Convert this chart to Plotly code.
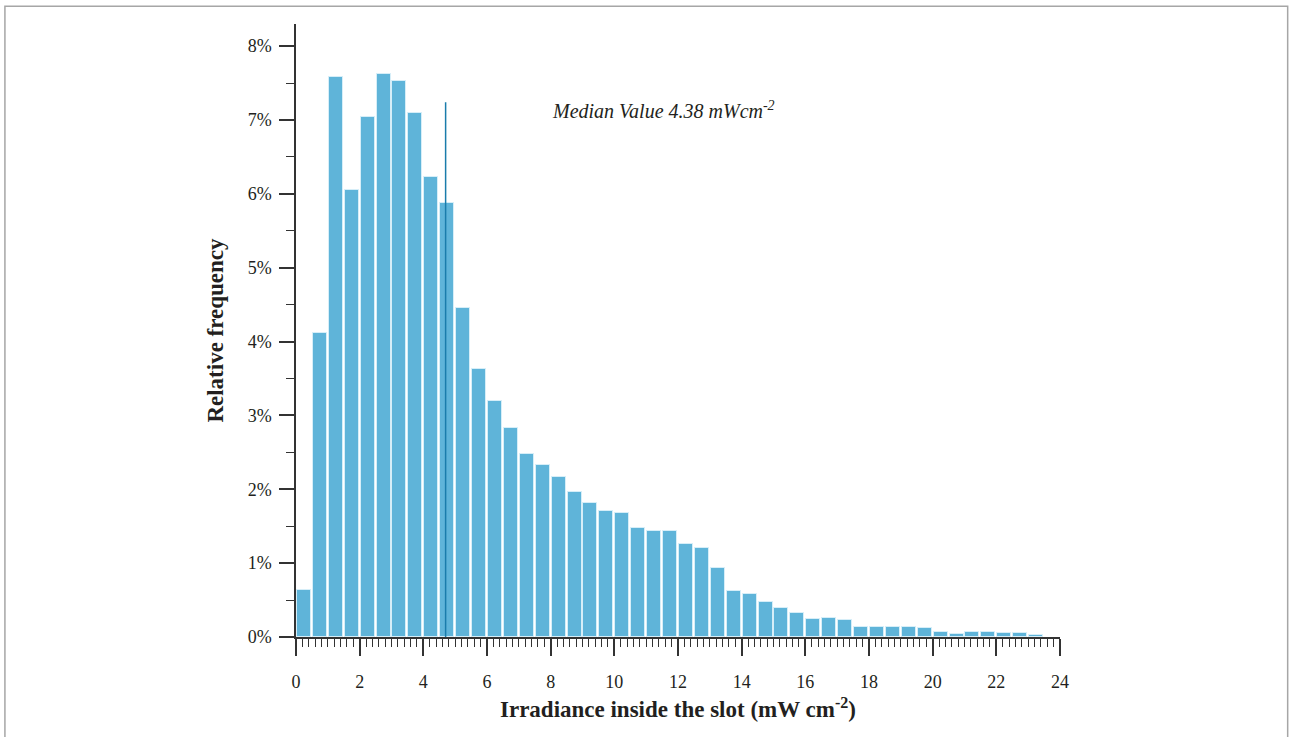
import plotly.graph_objects as go

# Histogram bins (mW cm^-2), width 0.5
bin_width = 0.5
bin_starts = [i * 0.5 for i in range(47)]
rel_freq = [0.63, 4.12, 7.58, 6.05, 7.04, 7.62, 7.53, 7.10, 6.23, 5.88,
            4.45, 3.63, 3.20, 2.83, 2.48, 2.33, 2.17, 1.97, 1.81, 1.70,
            1.68, 1.47, 1.43, 1.43, 1.26, 1.20, 0.93, 0.62, 0.58, 0.47,
            0.39, 0.32, 0.25, 0.26, 0.23, 0.14, 0.14, 0.14, 0.14, 0.12,
            0.07, 0.04, 0.07, 0.07, 0.05, 0.06, 0.03]
x_ticks = [0, 2, 4, 6, 8, 10, 12, 14, 16, 18, 20, 22, 24]
y_ticks = [0, 1, 2, 3, 4, 5, 6, 7, 8]
y_ticktext = [f"{v}%" for v in y_ticks]
median_line_x = 4.7
median_line_top = 7.24
median_label = "Median Value 4.38 mWcm<sup>-2</sup>"

centers = [s + bin_width / 2 for s in bin_starts]

fig = go.Figure()
fig.add_trace(go.Bar(
    x=centers, y=rel_freq, width=bin_width * 0.88,
    marker=dict(color="#5fb4d9", line=dict(color="#d6eef8", width=1)),
    hoverinfo="x+y", showlegend=False,
))
fig.add_trace(go.Scatter(
    x=[median_line_x, median_line_x], y=[0, median_line_top],
    mode="lines", line=dict(color="#1a7cab", width=1.5),
    showlegend=False, hoverinfo="skip",
))

font_family = "Liberation Serif, DejaVu Serif, serif"
axis_color = "#333333"

fig.add_annotation(
    x=7.97, y=7.13, xref="x", yref="y", text=median_label,
    showarrow=False, xanchor="left", yanchor="middle",
    font=dict(family=font_family, size=20, color="#231f20", style="italic"),
)

# outer frame
fig.add_shape(type="rect", xref="paper", yref="paper",
              x0=-0.381, x1=1.298, y0=-0.2, y1=1.029,
              line=dict(color="#a6a6a6", width=1.5), layer="below")

fig.update_layout(
    width=1290, height=737,
    margin=dict(l=296, r=230, t=24, b=100),
    paper_bgcolor="white", plot_bgcolor="white",
    font=dict(family=font_family, size=18, color="#231f20"),
    bargap=0,
    xaxis=dict(
        range=[0, 24], tickvals=x_ticks, ticks="outside", ticklen=17,
        tickwidth=1.5, tickcolor=axis_color, showline=True, linecolor=axis_color,
        linewidth=1.5, showgrid=False, zeroline=False,
        minor=dict(dtick=0.2, ticks="outside", ticklen=8, tickwidth=1.2,
                   tickcolor=axis_color, showgrid=False),
        ticklabelstandoff=11,
        title=dict(text="<b>Irradiance inside the slot (mW cm<sup>-2</sup>)</b>",
                   font=dict(size=23, family=font_family), standoff=10),
    ),
    yaxis=dict(
        range=[0, 8.3], tickvals=y_ticks, ticktext=y_ticktext, ticks="outside",
        ticklen=15, tickwidth=1.5, tickcolor=axis_color, showline=True,
        linecolor=axis_color, linewidth=1.5, showgrid=False, zeroline=False,
        minor=dict(dtick=0.5, ticks="outside", ticklen=8, tickwidth=1.2,
                   tickcolor=axis_color, showgrid=False),
        ticklabelstandoff=4,
        title=dict(text="<b>Relative frequency</b>",
                   font=dict(size=23, family=font_family), standoff=18),
    ),
)

fig.write_html(
    "out.html",
    config={"displayModeBar": False},
    post_script="document.body.style.margin='0';document.body.style.overflow='hidden';",
)
